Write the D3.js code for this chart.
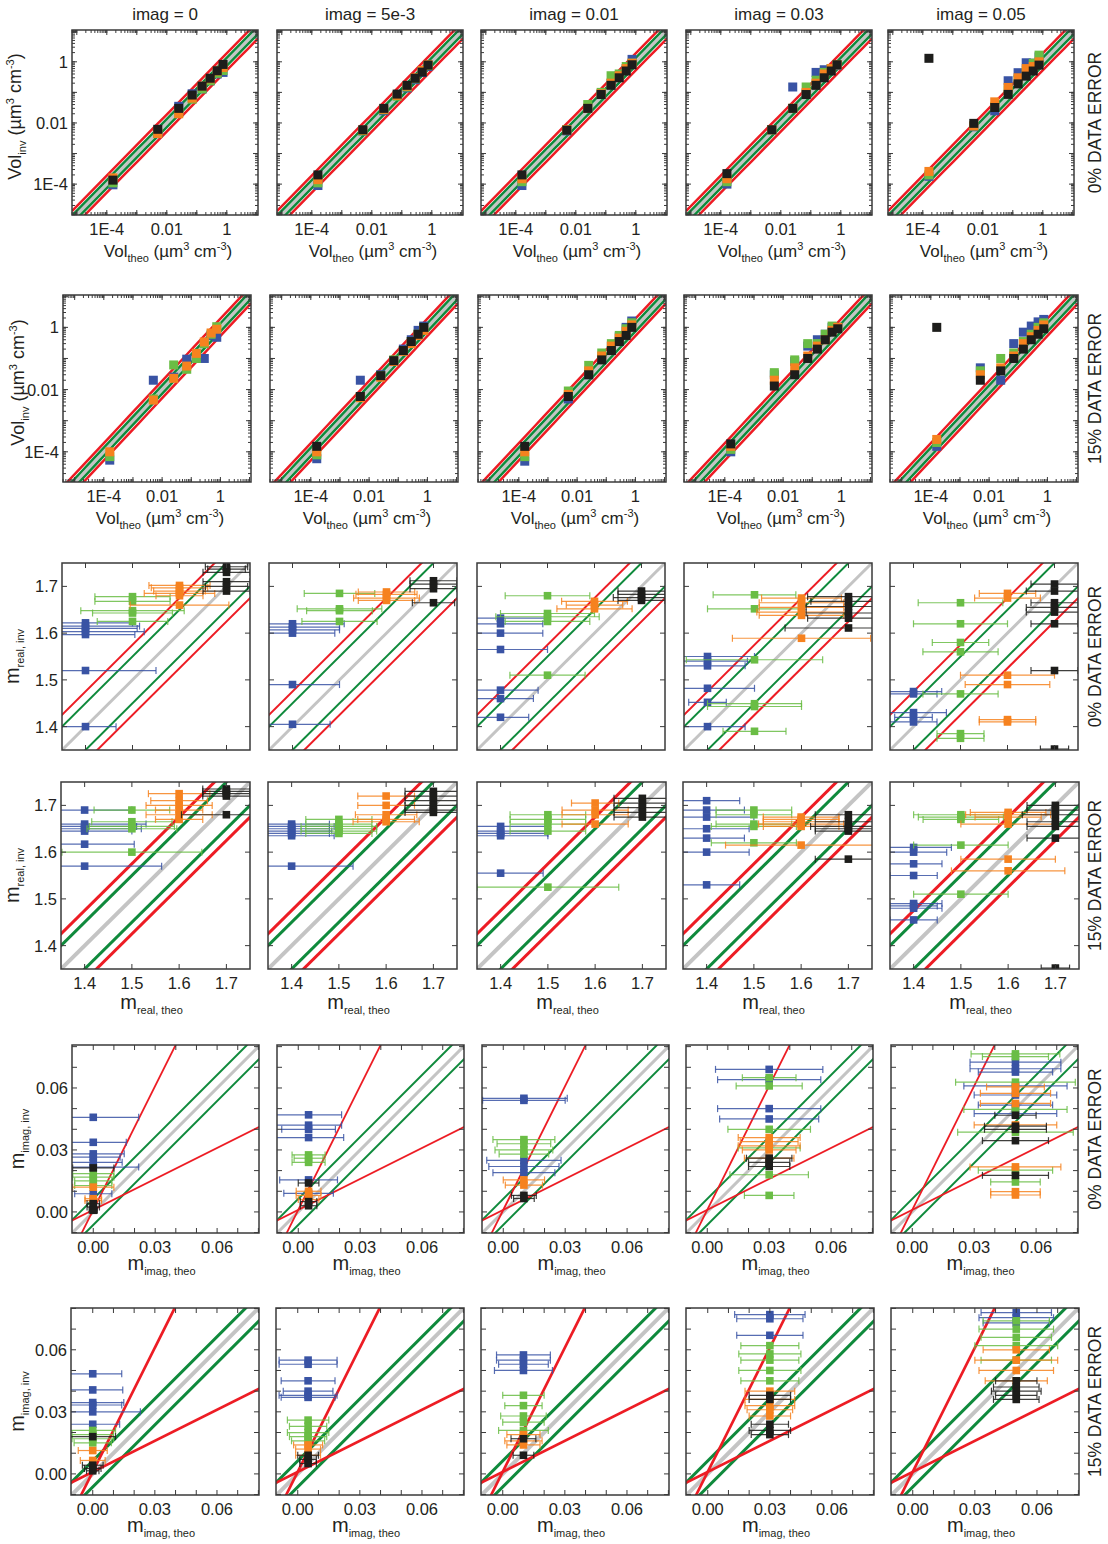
<!DOCTYPE html>
<html>
<head>
<meta charset="utf-8">
<script src="https://cdn.jsdelivr.net/npm/d3@7"></script>
<style>
  body { margin: 0; background: #fff; }
  text { font-family: "Liberation Sans", Arial, sans-serif; fill: #231f20; }
</style>
</head>
<body>
<svg id="chart" width="1108" height="1544"></svg>
<script>
// column headers and theoretical values
const columns = ["imag = 0", "imag = 5e-3", "imag = 0.01", "imag = 0.03", "imag = 0.05"];
const imagTheo = [0, 0.005, 0.01, 0.03, 0.05];
const seriesKeys = ["b", "g", "o", "k"];
const realTheo = [1.4, 1.5, 1.6, 1.7];          // b, g, o, k
const volTheo = [1.6e-4, 0.005, 0.025, 0.07, 0.15, 0.28, 0.48, 0.75];
const errorLabels = ["0% DATA ERROR", "15% DATA ERROR"];
const volTickLabels = [1e-4, 0.01, 1];
const realTickLabels = [1.4, 1.5, 1.6, 1.7];
const imagTickLabels = [0, 0.03, 0.06];

// retrieved volume, per column: [blue, green, orange, black]
const vol0 = [
  [[9.5e-5, 0.0045, 0.035, 0.09, 0.13, 0.24, 0.40, 0.45],
   [1.1e-4, 0.0048, 0.022, 0.06, 0.13, 0.24, 0.42, 0.52],
   [1.6e-4, 0.0045, 0.020, 0.065, 0.16, 0.28, 0.50, 0.65],
   [1.35e-4, 0.0062, 0.030, 0.082, 0.16, 0.29, 0.51, 0.82]],
  [[9e-5, 0.0055, 0.025, 0.08, 0.14, 0.26, 0.45, 0.70],
   [1.1e-4, 0.0055, 0.027, 0.075, 0.15, 0.28, 0.50, 0.75],
   [1.4e-4, 0.0058, 0.028, 0.08, 0.16, 0.30, 0.52, 0.80],
   [2.0e-4, 0.006, 0.030, 0.088, 0.17, 0.29, 0.46, 0.78]],
  [[9e-5, 0.0055, 0.030, 0.09, 0.20, 0.35, 0.60, 1.2],
   [1.2e-4, 0.006, 0.040, 0.10, 0.35, 0.40, 0.70, 0.90],
   [1.5e-4, 0.006, 0.030, 0.09, 0.20, 0.35, 0.60, 0.90],
   [2.0e-4, 0.0058, 0.030, 0.085, 0.17, 0.30, 0.50, 0.80]],
  [[1e-4, 0.006, 0.15, 0.09, 0.45, 0.55, 0.60, 0.75],
   [1.2e-4, 0.006, 0.030, 0.15, 0.25, 0.45, 0.60, 0.80],
   [1.5e-4, 0.006, 0.030, 0.10, 0.20, 0.40, 0.60, 0.80],
   [2.2e-4, 0.006, 0.030, 0.085, 0.17, 0.30, 0.50, 0.80]],
  [[1.8e-4, 0.0075, 0.025, 0.24, 0.44, 0.93, 0.90, 1.45],
   [2e-4, 0.008, 0.035, 0.12, 0.26, 0.50, 0.90, 1.65],
   [2.6e-4, 0.008, 0.049, 0.145, 0.30, 0.60, 0.70, 1.0],
   [1.3, 0.0097, 0.032, 0.086, 0.19, 0.34, 0.50, 0.78]]
];
const vol15 = [
  [[5.4e-5, 0.02, 0.025, 0.095, 0.10, 0.10, 0.55, 0.48],
   [7e-5, 0.005, 0.062, 0.045, 0.10, 0.30, 0.60, 1.05],
   [1e-4, 0.0046, 0.023, 0.057, 0.146, 0.34, 0.66, 0.87],
   []],
  [[6e-5, 0.02, 0.03, 0.08, 0.20, 0.40, 0.80, 1.1],
   [8e-5, 0.006, 0.028, 0.09, 0.18, 0.35, 0.60, 0.90],
   [1e-4, 0.0055, 0.025, 0.08, 0.17, 0.30, 0.55, 0.80],
   [1.5e-4, 0.006, 0.028, 0.085, 0.18, 0.35, 0.60, 1.0]],
  [[5e-5, 0.005, 0.03, 0.10, 0.25, 0.50, 1.0, 1.6],
   [7e-5, 0.009, 0.06, 0.15, 0.30, 0.55, 0.90, 1.4],
   [1e-4, 0.007, 0.04, 0.12, 0.25, 0.45, 0.75, 1.2],
   [1.5e-4, 0.006, 0.03, 0.09, 0.18, 0.35, 0.55, 1.0]],
  [[1e-4, 0.03, 0.08, 0.25, 0.40, 0.60, 1.0, 1.0],
   [1.2e-4, 0.035, 0.09, 0.30, 0.30, 0.60, 1.1, 1.0],
   [1.5e-4, 0.02, 0.05, 0.12, 0.25, 0.40, 0.80, 1.0],
   [1.8e-4, 0.013, 0.03, 0.10, 0.20, 0.40, 0.70, 0.90]],
  [[1.5e-4, 0.05, 0.02, 0.30, 0.70, 1.1, 1.5, 1.8],
   [2e-4, 0.04, 0.10, 0.15, 0.35, 0.60, 1.0, 1.4],
   [2.5e-4, 0.03, 0.05, 0.12, 0.30, 0.50, 0.80, 1.2],
   [1.0, 0.02, 0.04, 0.10, 0.20, 0.40, 0.60, 0.90]]
];

// retrieved real part: [series, m_inv, x error], per column
const real0 = [
  [["b",1.622,0.10],["b",1.615,0.115],["b",1.61,0.11],["b",1.603,0.125],["b",1.597,0.105],["b",1.52,0.15],["b",1.40,0.065],
   ["g",1.678,0.08],["g",1.668,0.08],["g",1.648,0.11],["g",1.643,0.085],["g",1.625,0.075],
   ["o",1.702,0.065],["o",1.697,0.06],["o",1.69,0.055],["o",1.685,0.075],["o",1.68,0.05],["o",1.66,0.105],
   ["k",1.742,0.045],["k",1.737,0.04],["k",1.73,0.05],["k",1.71,0.05],["k",1.70,0.045],["k",1.69,0.05]],
  [["b",1.62,0.11],["b",1.613,0.10],["b",1.607,0.10],["b",1.60,0.09],["b",1.49,0.10],["b",1.405,0.08],
   ["g",1.685,0.075],["g",1.652,0.09],["g",1.648,0.07],["g",1.625,0.08],
   ["o",1.688,0.06],["o",1.683,0.065],["o",1.675,0.07],["o",1.67,0.06],
   ["k",1.712,0.05],["k",1.705,0.05],["k",1.695,0.05],["k",1.665,0.045]],
  [["b",1.632,0.10],["b",1.62,0.09],["b",1.60,0.09],["b",1.565,0.10],["b",1.478,0.08],["b",1.46,0.07],["b",1.42,0.06],
   ["g",1.68,0.09],["g",1.642,0.10],["g",1.635,0.11],["g",1.625,0.09],["g",1.51,0.08],
   ["o",1.668,0.07],["o",1.66,0.06],["o",1.652,0.08],
   ["k",1.69,0.05],["k",1.683,0.05],["k",1.676,0.06],["k",1.67,0.05]],
  [["b",1.55,0.10],["b",1.54,0.085],["b",1.53,0.08],["b",1.482,0.10],["b",1.452,0.04],["b",1.40,0.08],
   ["g",1.682,0.088],["g",1.652,0.10],["g",1.543,0.145],["g",1.449,0.10],["g",1.443,0.10],["g",1.39,0.067],
   ["o",1.675,0.085],["o",1.665,0.09],["o",1.655,0.09],["o",1.645,0.095],["o",1.638,0.09],["o",1.589,0.147],
   ["k",1.678,0.087],["k",1.668,0.08],["k",1.657,0.09],["k",1.643,0.09],["k",1.632,0.087],["k",1.611,0.135]],
  [["b",1.475,0.06],["b",1.47,0.05],["b",1.43,0.07],["b",1.42,0.04],["b",1.41,0.05],
   ["g",1.665,0.09],["g",1.62,0.10],["g",1.58,0.06],["g",1.56,0.08],["g",1.47,0.08],["g",1.385,0.05],["g",1.375,0.05],
   ["o",1.685,0.06],["o",1.675,0.07],["o",1.51,0.10],["o",1.49,0.09],["o",1.415,0.06],["o",1.41,0.06],
   ["k",1.705,0.05],["k",1.69,0.06],["k",1.665,0.05],["k",1.655,0.06],["k",1.645,0.06],["k",1.62,0.05],["k",1.52,0.05],["k",1.352,0.03]]
];
const real15 = [
  [["b",1.69,0.10],["b",1.66,0.13],["b",1.655,0.11],["b",1.65,0.12],["b",1.645,0.10],["b",1.617,0.105],["b",1.57,0.163],
   ["g",1.69,0.08],["g",1.665,0.085],["g",1.655,0.09],["g",1.65,0.095],["g",1.60,0.148],
   ["o",1.725,0.065],["o",1.71,0.06],["o",1.70,0.07],["o",1.69,0.05],["o",1.68,0.07],["o",1.67,0.05],
   ["k",1.735,0.05],["k",1.73,0.05],["k",1.725,0.05],["k",1.72,0.05],["k",1.68,0.095]],
  [["b",1.66,0.08],["b",1.655,0.09],["b",1.65,0.08],["b",1.645,0.085],["b",1.64,0.08],["b",1.635,0.09],["b",1.57,0.13],
   ["g",1.67,0.07],["g",1.66,0.07],["g",1.655,0.08],["g",1.65,0.07],["g",1.645,0.08],["g",1.64,0.07],
   ["o",1.72,0.06],["o",1.70,0.06],["o",1.68,0.065],["o",1.67,0.06],["o",1.665,0.07],
   ["k",1.73,0.06],["k",1.72,0.06],["k",1.71,0.06],["k",1.70,0.06],["k",1.69,0.06],["k",1.685,0.06]],
  [["b",1.655,0.10],["b",1.645,0.10],["b",1.64,0.10],["b",1.635,0.10],["b",1.555,0.09],
   ["g",1.68,0.08],["g",1.67,0.08],["g",1.66,0.08],["g",1.645,0.08],["g",1.525,0.15],
   ["o",1.705,0.05],["o",1.69,0.07],["o",1.68,0.07],["o",1.66,0.07],
   ["k",1.715,0.06],["k",1.705,0.06],["k",1.695,0.06],["k",1.685,0.06],["k",1.675,0.06]],
  [["b",1.71,0.07],["b",1.69,0.08],["b",1.675,0.10],["b",1.65,0.09],["b",1.63,0.08],["b",1.60,0.09],["b",1.53,0.07],
   ["g",1.69,0.08],["g",1.68,0.08],["g",1.66,0.08],["g",1.655,0.09],["g",1.62,0.09],
   ["o",1.675,0.08],["o",1.67,0.08],["o",1.665,0.08],["o",1.66,0.09],["o",1.655,0.08],["o",1.615,0.16],
   ["k",1.68,0.07],["k",1.665,0.07],["k",1.655,0.08],["k",1.65,0.07],["k",1.645,0.07],["k",1.585,0.07]],
  [["b",1.61,0.08],["b",1.60,0.07],["b",1.575,0.06],["b",1.55,0.05],["b",1.49,0.06],["b",1.485,0.05],["b",1.48,0.06],["b",1.455,0.05],
   ["g",1.68,0.10],["g",1.675,0.09],["g",1.67,0.08],["g",1.615,0.10],["g",1.51,0.10],
   ["o",1.685,0.08],["o",1.68,0.09],["o",1.675,0.07],["o",1.66,0.10],["o",1.585,0.10],["o",1.56,0.12],
   ["k",1.70,0.06],["k",1.69,0.06],["k",1.68,0.07],["k",1.665,0.06],["k",1.655,0.06],["k",1.63,0.06],["k",1.352,0.03]]
];

// retrieved imaginary part: [series, m_inv, x error], per column
const imag0 = [
  [["b",0.0458,0.022],["b",0.0337,0.016],["b",0.0281,0.015],["b",0.0265,0.013],["b",0.024,0.014],["b",0.0217,0.022],["b",0.0088,0.009],
   ["g",0.0185,0.010],["g",0.0168,0.010],["g",0.015,0.009],["g",0.0128,0.009],
   ["o",0.012,0.010],["o",0.0064,0.004],["o",0.0055,0.004],
   ["k",0.0213,0.010],["k",0.004,0.003],["k",0.0024,0.003],["k",0.0008,0.002]],
  [["b",0.047,0.016],["b",0.042,0.016],["b",0.040,0.013],["b",0.036,0.017],["b",0.0155,0.014],["b",0.009,0.012],
   ["g",0.0276,0.008],["g",0.026,0.007],["g",0.024,0.008],
   ["o",0.010,0.006],["o",0.008,0.006],["o",0.006,0.005],
   ["k",0.014,0.005],["k",0.005,0.004],["k",0.003,0.004]],
  [["b",0.055,0.021],["b",0.054,0.020],["b",0.025,0.018],["b",0.022,0.017],["b",0.019,0.015],
   ["g",0.035,0.015],["g",0.033,0.013],["g",0.030,0.014],["g",0.028,0.012],
   ["o",0.0155,0.010],["o",0.013,0.009],
   ["k",0.008,0.006],["k",0.0065,0.005]],
  [["b",0.069,0.026],["b",0.064,0.025],["b",0.050,0.025],["b",0.045,0.024],
   ["g",0.065,0.013],["g",0.061,0.016],["g",0.040,0.020],["g",0.031,0.015],["g",0.018,0.019],["g",0.008,0.012],
   ["o",0.036,0.015],["o",0.034,0.014],["o",0.032,0.015],["o",0.030,0.013],["o",0.026,0.012],
   ["k",0.026,0.011],["k",0.024,0.010],["k",0.022,0.010]],
  [["b",0.0725,0.022],["b",0.0693,0.022],["b",0.0677,0.018],["b",0.061,0.025],["b",0.0566,0.020],["b",0.0517,0.018],["b",0.0476,0.020],
   ["g",0.0765,0.0215],["g",0.0752,0.016],["g",0.0628,0.029],["g",0.0496,0.025],["g",0.0386,0.028],["g",0.0202,0.018],["g",0.0145,0.012],
   ["o",0.0605,0.014],["o",0.0574,0.017],["o",0.0525,0.017],["o",0.0421,0.020],["o",0.0218,0.022],["o",0.0098,0.012],["o",0.0082,0.012],
   ["k",0.0468,0.010],["k",0.0415,0.015],["k",0.040,0.015],["k",0.0345,0.016],["k",0.0177,0.016]]
];
const imag15 = [
  [["b",0.0484,0.014],["b",0.0406,0.0145],["b",0.0345,0.015],["b",0.0333,0.014],["b",0.030,0.023],["b",0.024,0.013],
   ["g",0.021,0.011],["g",0.019,0.010],["g",0.017,0.010],["g",0.015,0.009],
   ["o",0.0113,0.007],["o",0.0065,0.006],
   ["k",0.018,0.011],["k",0.0042,0.005],["k",0.0026,0.004],["k",0.0015,0.003]],
  [["b",0.055,0.014],["b",0.053,0.014],["b",0.045,0.013],["b",0.040,0.012],["b",0.038,0.014],["b",0.037,0.013],
   ["g",0.026,0.010],["g",0.023,0.009],["g",0.020,0.010],["g",0.018,0.009],["g",0.016,0.008],
   ["o",0.014,0.007],["o",0.012,0.006],["o",0.009,0.006],
   ["k",0.009,0.005],["k",0.007,0.004],["k",0.005,0.004]],
  [["b",0.0575,0.013],["b",0.055,0.013],["b",0.053,0.012],["b",0.050,0.014],
   ["g",0.038,0.010],["g",0.033,0.009],["g",0.028,0.011],["g",0.025,0.010],["g",0.021,0.012],
   ["o",0.019,0.008],["o",0.016,0.009],["o",0.014,0.008],
   ["k",0.017,0.006],["k",0.009,0.005]],
  [["b",0.077,0.017],["b",0.075,0.016],["b",0.067,0.016],
   ["g",0.062,0.014],["g",0.058,0.015],["g",0.055,0.014],["g",0.050,0.015],["g",0.045,0.014],
   ["o",0.040,0.012],["o",0.036,0.012],["o",0.033,0.012],["o",0.031,0.011],["o",0.028,0.010],
   ["k",0.038,0.010],["k",0.036,0.010],["k",0.024,0.009],["k",0.021,0.010],["k",0.019,0.009]],
  [["b",0.078,0.017],["b",0.0755,0.018],["b",0.073,0.016],
   ["g",0.074,0.016],["g",0.070,0.018],["g",0.066,0.017],["g",0.062,0.020],["g",0.055,0.017],
   ["o",0.060,0.016],["o",0.055,0.020],["o",0.050,0.018],["o",0.045,0.015],
   ["k",0.045,0.010],["k",0.042,0.011],["k",0.040,0.012],["k",0.038,0.010],["k",0.036,0.011]]
];

const color = {b: "#3953a4", g: "#6abd45", o: "#f6821f", k: "#1d1d1b"};
const RED = "#ed1c24", GREEN = "#0f8a3c", GRAY = "#c4c4c4";

const svg = d3.select("#chart");

// panel layout per row
const rows = [
  {kind: "vol",  data: vol0,   top: 30,   h: 185, lefts: [72, 277, 481, 686, 888], w: 186, xd: [10**-5.16, 10**1.04], yd: [10**-5.01, 10**1.04], xlab: true,  lw: 2.5, ylx: 21},
  {kind: "vol",  data: vol15,  top: 295,  h: 187, lefts: [63, 270, 478, 684, 890], w: 188, xd: [10**-5.4, 10**1.05], yd: [10**-4.97, 10**1.04], xlab: true,  lw: 2.5, ylx: 24},
  {kind: "real", data: real0,  top: 563,  h: 187, lefts: [62, 269, 477, 684, 890], w: 188, xd: [1.35, 1.75], yd: [1.35, 1.75], xlab: false, lw: 2, ylx: 19},
  {kind: "real", data: real15, top: 782,  h: 187, lefts: [61, 268, 477, 683, 890], w: 189, xd: [1.35, 1.75], yd: [1.35, 1.75], xlab: true,  lw: 3, ylx: 19},
  {kind: "imag", data: imag0,  top: 1045, h: 188, lefts: [72, 277, 482, 686, 891], w: 187, xd: [-0.0103, 0.0803], yd: [-0.0102, 0.0808], xlab: true, lw: 2, ylx: 24},
  {kind: "imag", data: imag15, top: 1308, h: 187, lefts: [71, 276, 481, 686, 891], w: 188, xd: [-0.0105, 0.0803], yd: [-0.0102, 0.0802], xlab: true, lw: 3, ylx: 24}
];

function addLabel(g, x, y, base, sub, withUnit, rotate, size, ratio) {
  const small = Math.round(size * ratio);
  const t = g.append("text")
    .attr("text-anchor", "middle")
    .attr("font-size", size)
    .attr("transform", rotate ? `translate(${x},${y}) rotate(-90)` : `translate(${x},${y})`);
  t.append("tspan").text(base);
  t.append("tspan").attr("font-size", small).attr("dy", 5).text(sub);
  if (withUnit) {
    t.append("tspan").attr("dy", -5).text(" (\u00b5m");
    t.append("tspan").attr("font-size", small).attr("dy", -7).text("3");
    t.append("tspan").attr("dy", 7).text(" cm");
    t.append("tspan").attr("font-size", small).attr("dy", -7).text("-3");
    t.append("tspan").attr("dy", 7).text(")");
  }
}

const fmtVol = d => d === 1 ? "1" : d === 0.01 ? "0.01" : "1E-4";

rows.forEach((row, ri) => {
  row.lefts.forEach((left, ci) => {
    const g = svg.append("g");
    const right = left + row.w, bottom = row.top + row.h;
    let x, y;
    if (row.kind === "vol") {
      x = d3.scaleLog().domain(row.xd).range([left, right]);
      y = d3.scaleLog().domain(row.yd).range([bottom, row.top]);
    } else {
      x = d3.scaleLinear().domain(row.xd).range([left, right]);
      y = d3.scaleLinear().domain(row.yd).range([bottom, row.top]);
    }
    const clipId = `clip${ri}_${ci}`;
    g.append("clipPath").attr("id", clipId)
      .append("rect").attr("x", left).attr("y", row.top).attr("width", row.w).attr("height", row.h);
    const plot = g.append("g").attr("clip-path", `url(#${clipId})`);

    // reference lines
    const lines = [];
    if (row.kind === "vol") {
      lines.push([1, 0, GRAY, row.lw + 0.5], [1.35, 0, GREEN, row.lw], [1 / 1.35, 0, GREEN, row.lw],
                 [1.9, 0, RED, row.lw], [1 / 1.9, 0, RED, row.lw]);
    } else if (row.kind === "real") {
      lines.push([1, 0, GRAY, row.lw + 1], [1, 0.05, GREEN, row.lw], [1, -0.05, GREEN, row.lw],
                 [1, 0.075, RED, row.lw], [1, -0.075, RED, row.lw]);
    } else {
      lines.push([1, 0, GRAY, row.lw + 1], [1, 0.0063, GREEN, row.lw], [1, -0.0063, GREEN, row.lw],
                 [2, 0.001, RED, row.lw * 0.9], [0.5, 0.001, RED, row.lw * 0.9]);
    }
    lines.forEach(([k, c, col, lw]) => {
      let pts;
      if (row.kind === "vol") {
        const xs = d3.range(0, 21).map(i => row.xd[0] * Math.pow(row.xd[1] / row.xd[0], i / 20));
        pts = xs.map(v => [x(v), y(v * k)]);
      } else {
        const lo = row.xd[0] - 0.05, hi = row.xd[1] + 0.05;
        pts = [[x(lo), y(lo * k + c)], [x(hi), y(hi * k + c)]];
      }
      plot.append("path").attr("d", d3.line()(pts))
        .attr("fill", "none").attr("stroke", col).attr("stroke-width", lw);
    });

    // data marks
    if (row.kind === "vol") {
      const panel = row.data[ci];
      seriesKeys.forEach((key, si) => {
        const ys = panel[si];
        plot.selectAll(null).data(ys.map((v, i) => [volTheo[i], v])).join("rect")
          .attr("x", d => x(d[0]) - 4.5).attr("y", d => y(d[1]) - 4.5)
          .attr("width", 9).attr("height", 9).attr("fill", color[key]);
      });
    } else {
      const panel = row.data[ci];
      seriesKeys.forEach((key, si) => {
        const pts = panel.filter(p => p[0] === key);
        const xv = row.kind === "real" ? realTheo[si] : imagTheo[ci];
        const eb = plot.append("g").attr("stroke", color[key]).attr("stroke-width", 1.2).attr("stroke-opacity", 0.85);
        pts.forEach(p => {
          const x0 = x(xv - p[2]), x1 = x(xv + p[2]), yy = y(p[1]);
          eb.append("line").attr("x1", x0).attr("x2", x1).attr("y1", yy).attr("y2", yy);
          eb.append("line").attr("x1", x0).attr("x2", x0).attr("y1", yy - 3.5).attr("y2", yy + 3.5);
          eb.append("line").attr("x1", x1).attr("x2", x1).attr("y1", yy - 3.5).attr("y2", yy + 3.5);
        });
        plot.selectAll(null).data(pts).join("rect")
          .attr("x", x(xv) - 3.8).attr("y", d => y(d[1]) - 3.8)
          .attr("width", 7.6).attr("height", 7.6).attr("fill", color[key]);
      });
    }

    // ticks on all four sides, pointing inward
    const tk = g.append("g").attr("stroke", "#3a3a3a").attr("stroke-width", 1);
    let xMajor, xMinor, yMajor, yMinor;
    if (row.kind === "vol") {
      const all = d3.range(-6, 2).flatMap(e => d3.range(1, 10).map(m => m * Math.pow(10, e)));
      xMajor = d3.range(-5, 2).map(e => Math.pow(10, e)).filter(v => v >= row.xd[0] && v <= row.xd[1]);
      yMajor = d3.range(-5, 2).map(e => Math.pow(10, e)).filter(v => v >= row.yd[0] && v <= row.yd[1]);
      xMinor = all.filter(v => v >= row.xd[0] && v <= row.xd[1]);
      yMinor = all.filter(v => v >= row.yd[0] && v <= row.yd[1]);
    } else if (row.kind === "real") {
      xMajor = realTickLabels; yMajor = realTickLabels; xMinor = []; yMinor = [];
    } else {
      xMajor = d3.range(0, 0.081, 0.01); yMajor = d3.range(-0.01, 0.081, 0.01); xMinor = []; yMinor = [];
    }
    const maj = 5, mnr = 3;
    xMajor.forEach(v => {
      tk.append("line").attr("x1", x(v)).attr("x2", x(v)).attr("y1", bottom).attr("y2", bottom - maj);
      tk.append("line").attr("x1", x(v)).attr("x2", x(v)).attr("y1", row.top).attr("y2", row.top + maj);
    });
    xMinor.forEach(v => {
      tk.append("line").attr("x1", x(v)).attr("x2", x(v)).attr("y1", bottom).attr("y2", bottom - mnr);
      tk.append("line").attr("x1", x(v)).attr("x2", x(v)).attr("y1", row.top).attr("y2", row.top + mnr);
    });
    yMajor.forEach(v => {
      tk.append("line").attr("y1", y(v)).attr("y2", y(v)).attr("x1", left).attr("x2", left + maj);
      tk.append("line").attr("y1", y(v)).attr("y2", y(v)).attr("x1", right).attr("x2", right - maj);
    });
    yMinor.forEach(v => {
      tk.append("line").attr("y1", y(v)).attr("y2", y(v)).attr("x1", left).attr("x2", left + mnr);
      tk.append("line").attr("y1", y(v)).attr("y2", y(v)).attr("x1", right).attr("x2", right - mnr);
    });

    // frame
    g.append("rect").attr("x", left).attr("y", row.top).attr("width", row.w).attr("height", row.h)
      .attr("fill", "none").attr("stroke", "#3a3a3a").attr("stroke-width", 1.5);

    // tick labels
    const xl = row.kind === "vol" ? volTickLabels : row.kind === "real" ? realTickLabels : imagTickLabels;
    const fmt = row.kind === "vol" ? fmtVol : row.kind === "real" ? d3.format(".1f") : d3.format(".2f");
    if (row.xlab) {
      xl.forEach(v => g.append("text").attr("x", x(v)).attr("y", bottom + 20)
        .attr("text-anchor", "middle").attr("font-size", 16.5).text(fmt(v)));
      const xc = (left + right) / 2;
      if (row.kind === "vol") addLabel(g, xc + 3, bottom + 42, "Vol", "theo", true, false, 17, 0.62);
      else if (row.kind === "real") addLabel(g, xc - 4, bottom + 40, "m", "real, theo", false, false, 20, 0.55);
      else addLabel(g, xc - 4, bottom + 37, "m", "imag, theo", false, false, 20, 0.55);
    }
    if (ci === 0) {
      xl.forEach(v => g.append("text").attr("x", left - 4).attr("y", y(v) + 6)
        .attr("text-anchor", "end").attr("font-size", 16.5).text(fmt(v)));
      const yc = (row.top + bottom) / 2;
      if (row.kind === "vol") addLabel(g, row.ylx, yc - 6, "Vol", "inv", true, true, 18, 0.62);
      else if (row.kind === "real") addLabel(g, row.ylx, yc, "m", "real, inv", false, true, 20, 0.55);
      else addLabel(g, row.ylx, yc, "m", "imag, inv", false, true, 20, 0.55);
    }
    if (ri === 0) {
      g.append("text").attr("x", (left + right) / 2).attr("y", 20)
        .attr("text-anchor", "middle").attr("font-size", 17).text(columns[ci]);
    }
    if (ci === 4) {
      g.append("text").attr("transform", `translate(${1101},${(row.top + bottom) / 2}) rotate(-90)`)
        .attr("text-anchor", "middle").attr("font-size", 17.5).text(errorLabels[ri % 2]);
    }
  });
});
</script>
</body>
</html>
